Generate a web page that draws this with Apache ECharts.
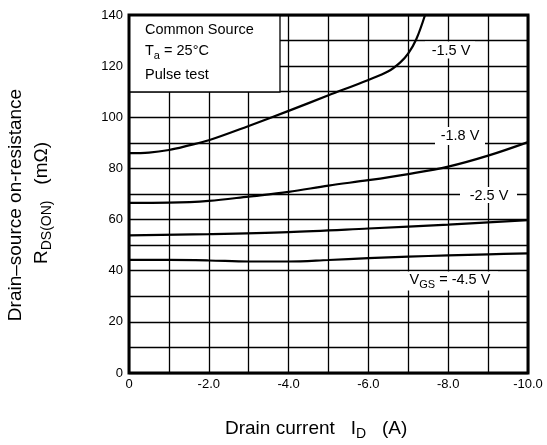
<!DOCTYPE html>
<html>
<head>
<meta charset="utf-8">
<script src="https://cdn.jsdelivr.net/npm/echarts@6/dist/echarts.min.js"></script>
<style>html,body{margin:0;padding:0;background:#fff}#c{width:547px;height:445px}</style>
</head>
<body>
<div id="c"></div>
<script>
// Drain current I_D (A) vs R_DS(ON) (mΩ)
var vgs15 = [[0,86],[-0.5,86.2],[-1,87.2],[-1.5,89],[-2,91],[-3,96.6],[-4,102.5],[-5,108.6],[-6,114.6],[-6.5,118],[-6.8,121.5],[-7.0,125],[-7.2,130.5],[-7.42,140]];
var vgs18 = [[0,66.5],[-1,66.6],[-2,67.3],[-3,69],[-4,70.8],[-5,73.3],[-6,75.4],[-7,77.8],[-8,80.7],[-9,85],[-10,90.3]];
var vgs25 = [[0,53.8],[-2,54.3],[-4,55.1],[-6,56.5],[-8,58],[-10,59.8]];
var vgs45 = [[0,44.2],[-1,44.2],[-2,44],[-3,43.6],[-4,43.6],[-5,44.2],[-6,44.9],[-7,45.5],[-8,46],[-9,46.4],[-10,46.8]];
var seriesNames = ['-1.5 V','-1.8 V','-2.5 V','VGS = -4.5 V'];
var xTickLabels = ['0','-2.0','-4.0','-6.0','-8.0','-10.0'];
var yTickLabels = ['0','20','40','60','80','100','120','140'];

var FF = "'Liberation Sans', Arial, Helvetica, sans-serif";
var chart = echarts.init(document.getElementById('c'), null, {renderer:'canvas'});

function mkSeries(name, data){
  return {name:name, type:'line', data:data, smooth:0.35, showSymbol:false, clip:true,
    lineStyle:{color:'#000', width:2.2}, z:3, silent:true};
}

function box(x,y,w,h){
  return {type:'rect', shape:{x:x,y:y,width:w,height:h}, style:{fill:'#fff', stroke:null}, z:40, silent:true};
}
function txt(x,y,text,rich,align){
  return {type:'text', x:x, y:y, z:60, silent:true,
    style:{text:text, fontSize:14.5, fontFamily:FF, fill:'#000',
      align:align||'center', textAlign:align||'center', verticalAlign:'middle', textVerticalAlign:'middle',
      rich:rich}};
}
var subRich = {
  m:{fontSize:14.5, fontFamily:FF, lineHeight:15, verticalAlign:'top', fill:'#000', color:'#000'},
  s:{fontSize:11, fontFamily:FF, lineHeight:11, padding:[7,0,0,0], verticalAlign:'top', fill:'#000', color:'#000'}
};
var titleRich = {
  m:{fontSize:19, fontFamily:FF, lineHeight:19, verticalAlign:'top', fill:'#000', color:'#000'},
  s:{fontSize:14, fontFamily:FF, lineHeight:14, padding:[8,0,0,0], verticalAlign:'top', fill:'#000', color:'#000'}
};

var option = {
  animation:false,
  backgroundColor:'#fff',
  grid:{left:129, right:19, top:15, bottom:72, show:false},
  xAxis:{type:'value', min:-10, max:0, interval:1, inverse:true,
    axisLine:{show:false}, axisTick:{show:false},
    splitLine:{show:true, lineStyle:{color:'#000', width:1.3}},
    axisLabel:{color:'#000', fontSize:13, fontFamily:FF, margin:5,
      formatter:function(v){ var k=Math.round(-v); return (k%2===0)? xTickLabels[k/2] : ''; }}
  },
  yAxis:{type:'value', min:0, max:140, interval:10,
    axisLine:{show:false}, axisTick:{show:false},
    splitLine:{show:true, lineStyle:{color:'#000', width:1.3}},
    axisLabel:{color:'#000', fontSize:13, fontFamily:FF, margin:6,
      formatter:function(v){ var k=Math.round(v); return (k%20===0)? yTickLabels[k/20] : ''; }}
  },
  series:[mkSeries(seriesNames[0],vgs15), mkSeries(seriesNames[1],vgs18), mkSeries(seriesNames[2],vgs25), mkSeries(seriesNames[3],vgs45)],
  graphic:[
    // condition box
    {type:'rect', shape:{x:129,y:15,width:151,height:77}, style:{fill:'#fff', stroke:'#000', lineWidth:1.3}, z:40, silent:true},
    txt(145,30,'Common Source',null,'left'),
    txt(145,51,'{m|T}{s|a}{m| = 25°C}',subRich,'left'),
    txt(145,75,'Pulse test',null,'left'),
    // curve labels
    box(425,41.5,50,17), txt(451,51,seriesNames[0]),
    box(435,127,50,18), txt(460,136,seriesNames[1]),
    box(460,187,57,16), txt(489,196,seriesNames[2]),
    box(400,271.5,98,19), txt(450,280,'{m|V}{s|GS}{m| = -4.5 V}',subRich),
    // frame
    {type:'rect', shape:{x:129,y:15,width:399,height:358}, style:{fill:null, stroke:'#000', lineWidth:3}, z:100, silent:true},
    // axis titles
    {type:'text', x:225, y:429, z:60, silent:true,
      style:{text:'{m|Drain current   I}{s|D}{m|   (A)}', rich:titleRich, fontFamily:FF, fill:'#000',
        align:'left', textAlign:'left', verticalAlign:'middle', textVerticalAlign:'middle'}},
    {type:'text', x:16, y:205, rotation:Math.PI/2, z:60, silent:true,
      style:{text:'Drain\u2013source on-resistance', fontSize:19, fontFamily:FF, fill:'#000',
        align:'center', textAlign:'center', verticalAlign:'middle', textVerticalAlign:'middle'}},
    {type:'text', x:42, y:203, rotation:Math.PI/2, z:60, silent:true,
      style:{text:'{m|R}{s|DS(ON)}{m|   (m\u03A9)}', rich:titleRich, fontFamily:FF, fill:'#000',
        align:'center', textAlign:'center', verticalAlign:'middle', textVerticalAlign:'middle'}}
  ]
};
chart.setOption(option);
</script>
</body>
</html>
